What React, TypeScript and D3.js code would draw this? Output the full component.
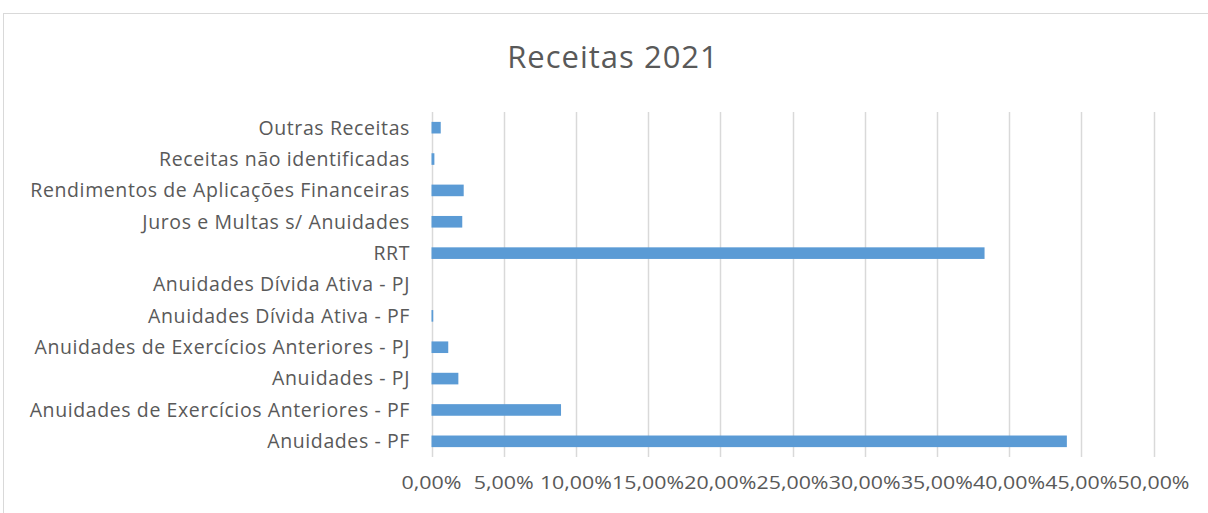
import { useEffect, useRef } from "react";
import * as d3 from "d3";

// categories listed top to bottom as they appear in the chart
const categories = [
  "Outras Receitas",
  "Receitas não identificadas",
  "Rendimentos de Aplicações Financeiras",
  "Juros e Multas s/ Anuidades",
  "RRT",
  "Anuidades Dívida Ativa - PJ",
  "Anuidades Dívida Ativa - PF",
  "Anuidades de Exercícios Anteriores - PJ",
  "Anuidades - PJ",
  "Anuidades de Exercícios Anteriores - PF",
  "Anuidades - PF",
];
const shares = [0.0064, 0.002, 0.0223, 0.0213, 0.383, 0, 0.0012, 0.0116, 0.0186, 0.0897, 0.44];
const xTicks = [0, 0.05, 0.1, 0.15, 0.2, 0.25, 0.3, 0.35, 0.4, 0.45, 0.5];
const title = "Receitas 2021";

const W = 1208;
const H = 513;
const FONT = "'Open Sans', 'Noto Sans', sans-serif";

export default function App() {
  const ref = useRef<SVGSVGElement>(null);

  useEffect(() => {
    const svg = d3.select(ref.current);
    svg.selectAll("*").remove();

    const ptBR = d3.formatLocale({
      decimal: ",",
      thousands: ".",
      grouping: [3],
      currency: ["R$", ""],
    });
    const pct = ptBR.format(".2%");

    const x = d3.scaleLinear().domain([0, 0.5]).range([431.5, 1153.5]);
    const y = d3.scaleBand<string>().domain(categories).range([112, 457]).paddingInner(0.63).paddingOuter(0.315);

    // chart frame
    svg
      .append("rect")
      .attr("x", 3.5)
      .attr("y", 13.5)
      .attr("width", W + 20)
      .attr("height", H + 20)
      .attr("fill", "#fff")
      .attr("stroke", "#d9d9d9");

    svg
      .append("text")
      .attr("x", 613)
      .attr("y", 68)
      .attr("text-anchor", "middle")
      .attr("font-family", FONT)
      .attr("font-size", 31)
      .attr("letter-spacing", 1)
      .attr("fill", "#595959")
      .text(title);

    // gridlines
    svg
      .append("g")
      .selectAll("line")
      .data(xTicks)
      .join("line")
      .attr("x1", (d) => Math.round(x(d)) + 0.5)
      .attr("x2", (d) => Math.round(x(d)) + 0.5)
      .attr("y1", 112)
      .attr("y2", 457)
      .attr("stroke", "#d9d9d9")
      .attr("stroke-width", 1.5);

    // bars
    svg
      .append("g")
      .selectAll("rect")
      .data(categories)
      .join("rect")
      .attr("x", x(0))
      .attr("y", (d) => y(d)!)
      .attr("width", (d, i) => x(shares[i]) - x(0))
      .attr("height", y.bandwidth())
      .attr("fill", "#5b9bd5");

    // category labels
    svg
      .append("g")
      .selectAll("text")
      .data(categories)
      .join("text")
      .attr("x", 410)
      .attr("y", (d) => y(d)! + y.bandwidth() / 2)
      .attr("dy", "0.35em")
      .attr("text-anchor", "end")
      .attr("font-family", FONT)
      .attr("font-size", 19.5)
      .attr("letter-spacing", 0.6)
      .attr("fill", "#595959")
      .text((d) => d);

    // x tick labels
    svg
      .append("g")
      .selectAll("text")
      .data(xTicks)
      .join("text")
      .attr("x", (d) => x(d))
      .attr("y", 483)
      .attr("dy", "0.35em")
      .attr("text-anchor", "middle")
      .attr("font-family", FONT)
      .attr("font-size", 18)
      .attr("fill", "#595959")
      .attr("textLength", (d) => (pct(d).length === 5 ? 60 : 72))
      .attr("lengthAdjust", "spacingAndGlyphs")
      .text((d) => pct(d));
  }, []);

  return (
    <svg
      ref={ref}
      width={W}
      height={H}
      style={{ position: "absolute", left: 0, top: 0, background: "#fff" }}
    />
  );
}
